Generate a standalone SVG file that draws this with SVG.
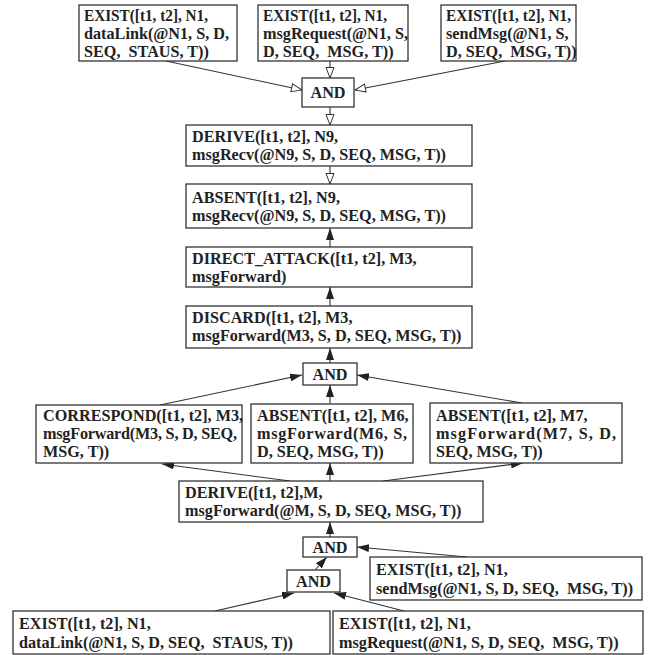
<svg xmlns="http://www.w3.org/2000/svg" width="653" height="655" viewBox="0 0 653 655">
<style>
.b{fill:#fff;stroke:#333;stroke-width:1.3}
.t{font-family:"Liberation Serif","Times New Roman",serif;font-weight:bold;font-size:16.2px;fill:#222;white-space:pre}
.c{fill:none;stroke:#333;stroke-width:1.1}
</style>
<defs>
<marker id="open" viewBox="0 0 12 10" refX="11.5" refY="5" markerWidth="12" markerHeight="10" orient="auto" markerUnits="userSpaceOnUse"><path d="M1,1 L11.5,5 L1,9 Z" fill="#fff" stroke="#333" stroke-width="1"/></marker>
<marker id="fill" viewBox="0 0 12 8" refX="12" refY="4" markerWidth="12" markerHeight="8" orient="auto" markerUnits="userSpaceOnUse"><path d="M0,0 L12,4 L0,8 Z" fill="#222"/></marker>
</defs>
<rect width="653" height="655" fill="#fff"/>
<g id="connectors">
<line class="c" x1="166" y1="61" x2="302" y2="90" marker-end="url(#open)"/>
<line class="c" x1="330" y1="61" x2="330" y2="78" marker-end="url(#open)"/>
<line class="c" x1="505" y1="61" x2="355" y2="90" marker-end="url(#open)"/>
<line class="c" x1="330" y1="107" x2="330" y2="125" marker-end="url(#open)"/>
<line class="c" x1="330" y1="166" x2="330" y2="184" marker-end="url(#open)"/>
<line class="c" x1="330" y1="247" x2="330" y2="228" marker-end="url(#fill)"/>
<line class="c" x1="330" y1="306" x2="330" y2="287" marker-end="url(#fill)"/>
<line class="c" x1="330" y1="363" x2="330" y2="348" marker-end="url(#fill)"/>
<line class="c" x1="160" y1="405" x2="302" y2="375" marker-end="url(#fill)"/>
<line class="c" x1="330" y1="404" x2="330" y2="385" marker-end="url(#fill)"/>
<line class="c" x1="522" y1="403" x2="357" y2="375" marker-end="url(#fill)"/>
<line class="c" x1="290" y1="481" x2="162" y2="464" marker-end="url(#fill)"/>
<line class="c" x1="330" y1="481" x2="330" y2="463" marker-end="url(#fill)"/>
<line class="c" x1="383" y1="481" x2="523" y2="463" marker-end="url(#fill)"/>
<line class="c" x1="330" y1="537" x2="330" y2="522" marker-end="url(#fill)"/>
<line class="c" x1="315" y1="570" x2="327" y2="557" marker-end="url(#fill)"/>
<line class="c" x1="467" y1="557" x2="357" y2="547" marker-end="url(#fill)"/>
<line class="c" x1="215" y1="611" x2="294" y2="593" marker-end="url(#fill)"/>
<line class="c" x1="404" y1="611" x2="334" y2="593" marker-end="url(#fill)"/>
</g>
<g id="exist_datalink_top"><rect class="b" x="79" y="5" width="158" height="56"/>
<text class="t" x="84" y="21" textLength="124" lengthAdjust="spacingAndGlyphs">EXIST([t1, t2], N1,</text><text class="t" x="84" y="39">dataLink(@N1, S, D,</text><text class="t" x="84" y="57">SEQ,  STAUS, T))</text></g>
<g id="exist_msgrequest_top"><rect class="b" x="258" y="5" width="150" height="56"/>
<text class="t" x="263" y="21" textLength="124" lengthAdjust="spacingAndGlyphs">EXIST([t1, t2], N1,</text><text class="t" x="263" y="39">msgRequest(@N1, S,</text><text class="t" x="263" y="57">D, SEQ,  MSG, T))</text></g>
<g id="exist_sendmsg_top"><rect class="b" x="441" y="5" width="135" height="56"/>
<text class="t" x="446" y="21" textLength="125" lengthAdjust="spacingAndGlyphs">EXIST([t1, t2], N1,</text><text class="t" x="446" y="39">sendMsg(@N1, S,</text><text class="t" x="446" y="57">D, SEQ,  MSG, T))</text></g>
<g id="and1"><rect class="b" x="302" y="78" width="52" height="29"/><text class="t" x="328" y="98" text-anchor="middle">AND</text></g>
<g id="derive_msgrecv"><rect class="b" x="186" y="125" width="286" height="41"/>
<text class="t" x="192" y="142">DERIVE([t1, t2], N9,</text><text class="t" x="192" y="160">msgRecv(@N9, S, D, SEQ, MSG, T))</text></g>
<g id="absent_msgrecv"><rect class="b" x="186" y="184" width="286" height="44"/>
<text class="t" x="192" y="203">ABSENT([t1, t2], N9,</text><text class="t" x="192" y="221">msgRecv(@N9, S, D, SEQ, MSG, T))</text></g>
<g id="direct_attack"><rect class="b" x="186" y="247" width="286" height="40"/>
<text class="t" x="192" y="264">DIRECT_ATTACK([t1, t2], M3,</text><text class="t" x="192" y="282">msgForward)</text></g>
<g id="discard"><rect class="b" x="186" y="306" width="286" height="42"/>
<text class="t" x="192" y="323">DISCARD([t1, t2], M3,</text><text class="t" x="192" y="341">msgForward(M3, S, D, SEQ, MSG, T))</text></g>
<g id="and2"><rect class="b" x="303" y="363" width="54" height="22"/><text class="t" x="330" y="380" text-anchor="middle">AND</text></g>
<g id="correspond"><rect class="b" x="36" y="405" width="206" height="58"/>
<text class="t" x="43" y="421">CORRESPOND([t1, t2], M3,</text><text class="t" x="43" y="439" textLength="194" lengthAdjust="spacing">msgForward(M3, S, D, SEQ,</text><text class="t" x="43" y="457">MSG, T))</text></g>
<g id="absent_m6"><rect class="b" x="251" y="404" width="162" height="59"/>
<text class="t" x="257" y="421">ABSENT([t1, t2], M6,</text><text class="t" x="257" y="439" textLength="150" lengthAdjust="spacing">msgForward(M6, S,</text><text class="t" x="257" y="457">D, SEQ, MSG, T))</text></g>
<g id="absent_m7"><rect class="b" x="430" y="403" width="192" height="60"/>
<text class="t" x="436" y="421">ABSENT([t1, t2], M7,</text><text class="t" x="436" y="439" textLength="180" lengthAdjust="spacing">msgForward(M7, S, D,</text><text class="t" x="436" y="457">SEQ, MSG, T))</text></g>
<g id="derive_msgforward"><rect class="b" x="179" y="481" width="304" height="41"/>
<text class="t" x="185" y="498">DERIVE([t1, t2],M,</text><text class="t" x="185" y="516">msgForward(@M, S, D, SEQ, MSG, T))</text></g>
<g id="and3"><rect class="b" x="303" y="537" width="54" height="20"/><text class="t" x="330" y="553" text-anchor="middle">AND</text></g>
<g id="and4"><rect class="b" x="287" y="570" width="53" height="22"/><text class="t" x="313.5" y="587" text-anchor="middle">AND</text></g>
<g id="exist_sendmsg_bottom"><rect class="b" x="370" y="557" width="272" height="43"/>
<text class="t" x="376" y="575">EXIST([t1, t2], N1,</text><text class="t" x="376" y="594">sendMsg(@N1, S, D, SEQ,  MSG, T))</text></g>
<g id="exist_datalink_bottom"><rect class="b" x="13" y="611" width="317" height="43"/>
<text class="t" x="19" y="629">EXIST([t1, t2], N1,</text><text class="t" x="19" y="648">dataLink(@N1, S, D, SEQ,  STAUS, T))</text></g>
<g id="exist_msgrequest_bottom"><rect class="b" x="333" y="611" width="310" height="43"/>
<text class="t" x="339" y="629">EXIST([t1, t2], N1,</text><text class="t" x="339" y="648">msgRequest(@N1, S, D, SEQ,  MSG, T))</text></g>
</svg>
